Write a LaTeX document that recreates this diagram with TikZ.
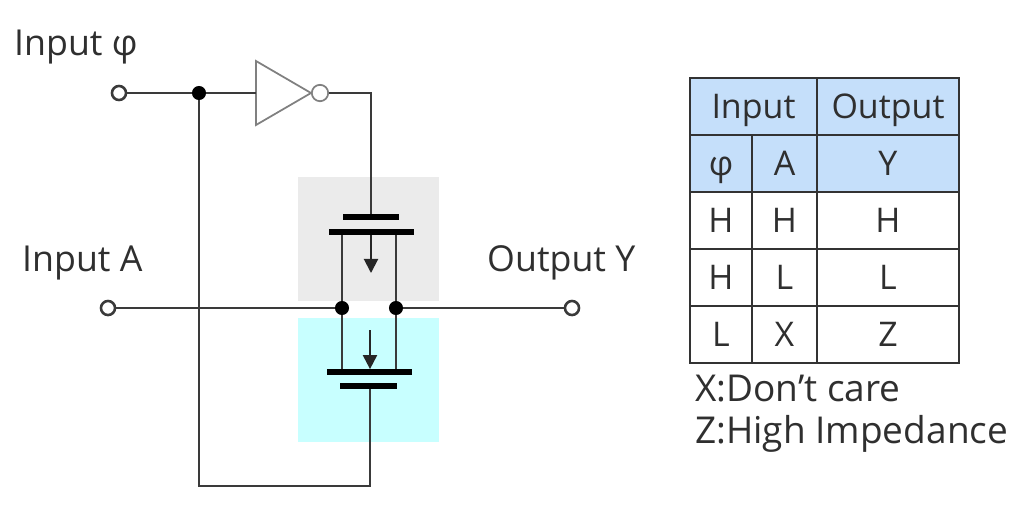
\documentclass[tikz,border=0pt]{standalone}
\usepackage{fontspec}
\setmainfont{Open Sans}
\usepackage{xcolor}
\usetikzlibrary{shapes.geometric, arrows.meta}
\definecolor{wiregray}{HTML}{3A3A3A}
\definecolor{headblue}{HTML}{C5DFFA}
\definecolor{nmosgray}{HTML}{EBEBEB}
\definecolor{pmoscyan}{HTML}{C8FFFF}
\definecolor{textgray}{HTML}{2F2F2F}
\tikzstyle{wire} = [line width=2.2pt, draw=wiregray]
\tikzstyle{flow} = [line width=1.7pt, draw=black!85, -{Triangle[length=12pt, width=12pt]}]
\tikzstyle{terminal} = [circle, minimum size=12pt, inner sep=0pt, line width=2.2pt, draw=wiregray, fill=white]
\tikzstyle{junction} = [circle, minimum size=12pt, inner sep=0pt, fill=black]
\tikzstyle{plate} = [rectangle, inner sep=0pt, fill=black, minimum height=4.5pt]
\tikzstyle{label} = [font=\fontsize{30.5pt}{32pt}\selectfont, text=textgray, inner sep=0pt, anchor=base west]
\tikzstyle{note} = [label, font=\fontsize{31.6pt}{32pt}\selectfont]
\tikzstyle{gatebox} = [rectangle, inner sep=0pt, minimum width=4.23cm, minimum height=3.72cm]
\tikzstyle{cell} = [rectangle, draw=black!80, line width=1.6pt, inner sep=0pt, outer sep=0pt, font=\fontsize{29pt}{32pt}\selectfont, text=textgray, text height=20.7pt, text depth=0pt, minimum height=1.71cm]
\tikzstyle{narrow} = [cell, minimum width=1.86cm]
\tikzstyle{middle} = [cell, minimum width=1.95cm]
\tikzstyle{wide} = [cell, minimum width=4.26cm]
\begin{document}
\begin{tikzpicture}[x=0.03cm, y=-0.03cm, node distance=1.71cm]
    \useasboundingbox (0,0) rectangle (1024,520);

    % shaded transistors
    \node (greybox) [gatebox, fill=nmosgray] at (368.5,239) {};
    \node (cyanbox) [gatebox, fill=pmoscyan] at (368.5,380) {};

    % terminals and dots
    \node (inphi) [terminal] at (119,93) {};
    \node (ina) [terminal] at (108,308) {};
    \node (outy) [terminal] at (572,308) {};
    \node (dotphi) [junction] at (199,93) {};
    \node (dotleft) [junction] at (342,308) {};
    \node (dotright) [junction] at (396,308) {};

    % inverter
    \node (inv) [isosceles triangle, isosceles triangle stretches, shape border rotate=0, minimum width=1.92cm, minimum height=1.65cm, inner sep=0pt, outer sep=0pt, line width=1.5pt, draw=black!50, anchor=lower side] at (256,93) {};
    \node (bubble) [circle, minimum size=14pt, inner sep=0pt, line width=1.5pt, draw=black!50, fill=white] at (320,93) {};

    % transistor plates
    \node (gatetop) [plate, minimum width=1.68cm, minimum height=5pt] at (371,217) {};
    \node (chantop) [plate, minimum width=2.55cm] at (371.5,232) {};
    \node (chanbot) [plate, minimum width=2.55cm] at (369.5,372) {};
    \node (gatebot) [plate, minimum width=1.71cm, minimum height=5pt] at (368.5,386) {};

    \coordinate (arrowtop) at (371,273);
    \coordinate (arrowbot) at (370,330);
    \coordinate (loop) at (370,486);

    % labels
    \node (labphi) [label] at (14,55) {Input φ};
    \node (laba) [label] at (22,271) {Input A};
    \node (laby) [label] at (487,271) {Output Y};
    \node (noteX) [note] at (695,401) {X:Don’t care};
    \node (noteZ) [note] at (695,443) {Z:High Impedance};

    % wires
    \draw [wire] (inphi) -- (dotphi);
    \draw [wire] (dotphi) -- (inv.lower side);
    \draw [wire] (bubble) -| (gatetop);
    \draw [wire] (dotphi) |- (loop) -- (loop |- gatebot.south);
    \draw [wire] (ina) -- (dotleft);
    \draw [wire] (dotright) -- (outy);
    \draw [wire] (dotleft) -- (dotleft |- chantop.south);
    \draw [wire] (dotright) -- (dotright |- chantop.south);
    \draw [wire] (dotleft) -- (dotleft |- chanbot.north);
    \draw [wire] (dotright) -- (dotright |- chanbot.north);
    \draw [flow] (chantop.south -| arrowtop) -- (arrowtop);
    \draw [flow] (arrowbot) -- (arrowbot |- chanbot.north);

    % truth table
    \node (hinput) [cell, minimum width=3.81cm, fill=headblue] at (753.5,106.5) {Input};
    \node (houtput) [wide, fill=headblue] at (888,106.5) {Output};
    \node (hphi) [narrow, fill=headblue] at (721,163.5) {φ};
    \node (ha) [middle, fill=headblue] at (784.5,163.5) {A};
    \node (hy) [wide, fill=headblue] at (888,163.5) {Y};
    \node (r1a) [narrow, below of=hphi] {H};
    \node (r1b) [middle, below of=ha] {H};
    \node (r1c) [wide, below of=hy] {H};
    \node (r2a) [narrow, below of=r1a] {H};
    \node (r2b) [middle, below of=r1b] {L};
    \node (r2c) [wide, below of=r1c] {L};
    \node (r3a) [narrow, below of=r2a] {L};
    \node (r3b) [middle, below of=r2b] {X};
    \node (r3c) [wide, below of=r2c] {Z};
\end{tikzpicture}
\end{document}
